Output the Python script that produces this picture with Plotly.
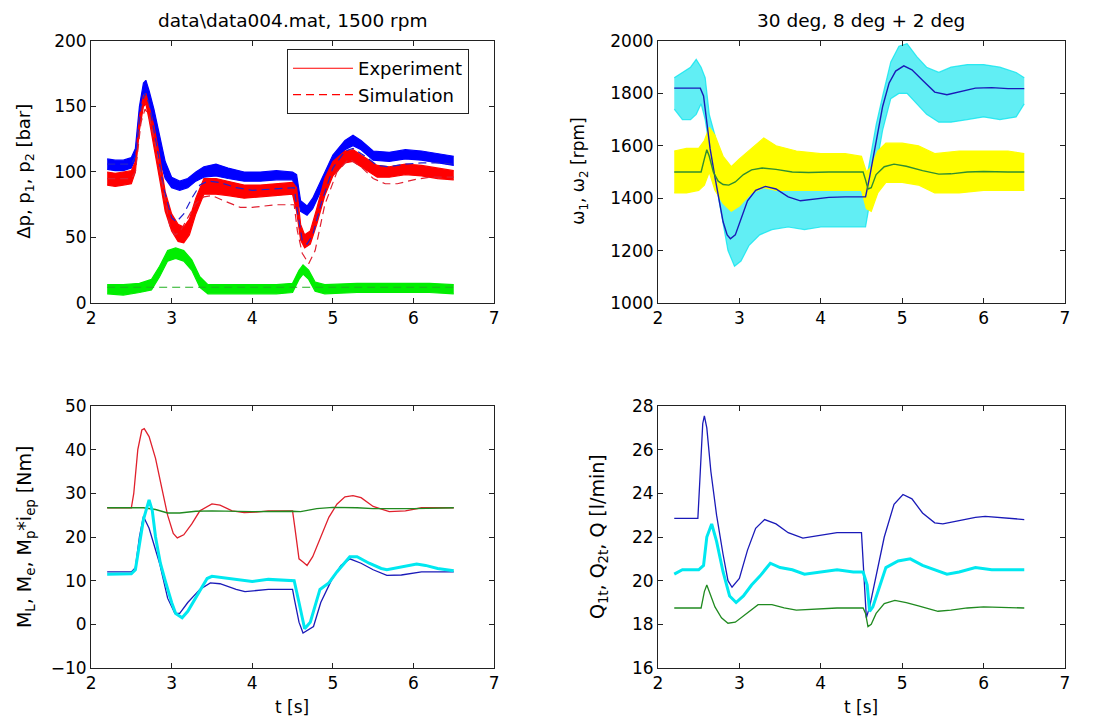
import plotly.graph_objects as go

# ---------------- data ----------------
# Top-left: pressures [bar]
p1_t  = [2.20, 2.30, 2.40, 2.50, 2.55, 2.60, 2.65, 2.68, 2.72, 2.78, 2.85, 2.92, 3.00, 3.10, 3.20, 3.30, 3.40, 3.55, 3.70, 3.90, 4.10, 4.30, 4.50, 4.55, 4.60, 4.68, 4.75, 4.85, 5.00, 5.15, 5.25, 5.35, 5.50, 5.70, 5.90, 6.10, 6.30, 6.50]
p1_lo = [102, 101, 101, 103, 110, 140, 160, 160, 150, 135, 110, 95, 88, 86, 88, 93, 96, 97, 95, 93, 93, 94, 94, 85, 70, 67, 72, 85, 105, 117, 120, 117, 109, 108, 110, 109, 107, 105]
p1_hi = [110, 109, 109, 111, 118, 150, 168, 170, 162, 148, 128, 108, 96, 93, 95, 100, 104, 106, 103, 100, 100, 101, 100, 98, 78, 74, 80, 93, 113, 124, 128, 124, 116, 115, 117, 116, 114, 112]

p2_t  = [2.20, 2.30, 2.40, 2.50, 2.55, 2.60, 2.65, 2.68, 2.72, 2.78, 2.85, 2.92, 3.00, 3.08, 3.15, 3.22, 3.30, 3.40, 3.55, 3.70, 3.90, 4.10, 4.30, 4.50, 4.55, 4.60, 4.65, 4.72, 4.80, 4.90, 5.00, 5.15, 5.25, 5.40, 5.55, 5.70, 5.90, 6.10, 6.30, 6.50]
p2_lo = [90, 89, 90, 91, 100, 132, 150, 152, 140, 120, 95, 70, 55, 47, 46, 52, 68, 83, 83, 82, 80, 81, 82, 83, 70, 48, 42, 45, 60, 82, 97, 107, 108, 102, 96, 96, 98, 97, 95, 94]
p2_hi = [100, 99, 100, 101, 108, 142, 158, 160, 150, 135, 112, 85, 68, 60, 58, 64, 80, 95, 95, 93, 90, 90, 91, 92, 88, 60, 52, 55, 72, 95, 108, 116, 117, 111, 105, 104, 106, 105, 103, 101]

dp_t  = [2.20, 2.40, 2.60, 2.75, 2.85, 2.95, 3.05, 3.15, 3.25, 3.35, 3.45, 3.70, 4.00, 4.30, 4.50, 4.58, 4.63, 4.70, 4.78, 4.90, 5.30, 5.80, 6.20, 6.50]
dp_lo = [7, 6, 8, 10, 20, 32, 34, 32, 25, 12, 7, 7, 7, 7, 8, 18, 22, 18, 9, 7, 8, 8, 8, 7]
dp_hi = [14, 14, 15, 18, 28, 40, 42, 40, 33, 20, 14, 14, 14, 14, 15, 25, 29, 25, 16, 14, 15, 15, 15, 14]

p1s_t = [2.20, 2.50, 2.55, 2.62, 2.67, 2.72, 2.80, 2.90, 3.00, 3.06, 3.15, 3.25, 3.35, 3.45, 3.60, 3.80, 4.00, 4.30, 4.52, 4.56, 4.62, 4.68, 4.75, 4.85, 5.00, 5.15, 5.25, 5.40, 5.55, 5.70, 5.90, 6.10, 6.30, 6.50]
p1s   = [106, 106, 112, 150, 160, 152, 125, 88, 65, 62, 68, 80, 90, 93, 92, 88, 86, 87, 88, 70, 48, 45, 52, 75, 103, 116, 118, 112, 105, 104, 106, 107, 107, 106]

p2s_t = [2.20, 2.50, 2.55, 2.62, 2.67, 2.72, 2.80, 2.90, 2.98, 3.04, 3.10, 3.20, 3.30, 3.40, 3.50, 3.65, 3.85, 4.00, 4.30, 4.52, 4.56, 4.62, 4.70, 4.78, 4.90, 5.05, 5.20, 5.35, 5.50, 5.65, 5.80, 6.00, 6.20, 6.40, 6.50]
p2s   = [95, 95, 100, 138, 148, 143, 120, 85, 58, 52, 54, 65, 76, 81, 82, 78, 73, 73, 75, 75, 55, 38, 30, 40, 75, 100, 110, 104, 95, 91, 91, 94, 96, 96, 96]

dps_t = [2.20, 6.50]
dps   = [12, 12]

# Top-right: speeds [rpm]
w2_t  = [2.20, 2.30, 2.40, 2.47, 2.53, 2.58, 2.63, 2.70, 2.78, 2.86, 2.94, 3.02, 3.12, 3.25, 3.40, 3.60, 3.80, 4.00, 4.20, 4.40, 4.55, 4.60, 4.68, 4.76, 4.86, 4.96, 5.06, 5.18, 5.30, 5.45, 5.60, 5.80, 6.00, 6.20, 6.40, 6.50]
w2_lo = [1740, 1700, 1700, 1720, 1760, 1700, 1600, 1480, 1330, 1200, 1140, 1160, 1220, 1260, 1280, 1290, 1280, 1290, 1290, 1290, 1290, 1380, 1520, 1660, 1780, 1800, 1800, 1760, 1720, 1690, 1690, 1700, 1710, 1700, 1710, 1760]
w2_hi = [1860, 1880, 1900, 1930, 1900, 1860, 1720, 1640, 1530, 1450, 1400, 1400, 1430, 1445, 1450, 1445, 1440, 1440, 1440, 1440, 1450, 1540, 1680, 1790, 1920, 1980, 1990, 1940, 1900, 1880, 1900, 1910, 1910, 1900, 1880, 1860]

w1_t  = [2.20, 2.35, 2.50, 2.57, 2.63, 2.70, 2.80, 2.90, 3.00, 3.15, 3.30, 3.45, 3.70, 4.00, 4.30, 4.50, 4.56, 4.62, 4.70, 4.80, 5.00, 5.20, 5.40, 5.70, 6.00, 6.30, 6.50]
w1_lo = [1420, 1420, 1430, 1450, 1500, 1430, 1380, 1350, 1370, 1420, 1440, 1430, 1430, 1430, 1430, 1430, 1360, 1350, 1420, 1460, 1460, 1450, 1420, 1420, 1430, 1430, 1430]
w1_hi = [1580, 1590, 1590, 1620, 1670, 1640, 1560, 1520, 1550, 1590, 1630, 1600, 1580, 1570, 1570, 1560, 1500, 1520, 1580, 1610, 1610, 1600, 1570, 1580, 1580, 1580, 1570]

w2s_t = [2.20, 2.52, 2.56, 2.60, 2.64, 2.70, 2.75, 2.80, 2.85, 2.89, 2.95, 3.02, 3.10, 3.20, 3.32, 3.45, 3.60, 3.75, 3.90, 4.10, 4.30, 4.55, 4.60, 4.68, 4.76, 4.84, 4.92, 5.02, 5.12, 5.25, 5.40, 5.55, 5.70, 5.90, 6.10, 6.30, 6.50]
w2s   = [1820, 1820, 1790, 1700, 1590, 1480, 1390, 1310, 1260, 1245, 1260, 1320, 1390, 1430, 1445, 1435, 1405, 1390, 1395, 1403, 1405, 1405, 1480, 1620, 1750, 1840, 1885, 1905, 1890, 1850, 1805, 1795, 1805, 1820, 1822, 1818, 1818]

w1s_t = [2.20, 2.53, 2.57, 2.60, 2.63, 2.68, 2.74, 2.80, 2.87, 2.95, 3.05, 3.15, 3.28, 3.45, 3.65, 3.85, 4.10, 4.52, 4.55, 4.58, 4.62, 4.68, 4.78, 4.90, 5.05, 5.25, 5.45, 5.60, 5.80, 6.00, 6.30, 6.50]
w1s   = [1500, 1500, 1550, 1585, 1560, 1500, 1465, 1452, 1450, 1462, 1490, 1508, 1515, 1510, 1500, 1498, 1500, 1500, 1470, 1435, 1440, 1490, 1520, 1530, 1522, 1505, 1492, 1493, 1500, 1502, 1500, 1500]

# Bottom-left: torques [Nm]
ML_t = [2.20, 2.50, 2.53, 2.58, 2.63, 2.66, 2.72, 2.80, 2.88, 2.95, 3.02, 3.07, 3.15, 3.25, 3.35, 3.50, 3.60, 3.75, 3.90, 4.05, 4.20, 4.50, 4.53, 4.58, 4.63, 4.68, 4.75, 4.85, 4.95, 5.05, 5.15, 5.25, 5.35, 5.50, 5.70, 5.90, 6.10, 6.50]
ML   = [26.7, 26.7, 30.0, 40.0, 44.5, 44.8, 43.0, 38.0, 31.0, 25.0, 20.8, 19.8, 20.5, 23.0, 26.0, 27.6, 27.3, 26.0, 25.6, 25.7, 26.0, 26.0, 22.0, 15.0, 14.3, 13.5, 15.5, 20.0, 24.5, 27.5, 29.2, 29.5, 29.0, 27.0, 25.8, 26.0, 26.7, 26.7]

Me_t = [2.20, 2.65, 2.80, 2.95, 3.10, 3.30, 3.50, 3.80, 4.00, 4.50, 4.60, 4.80, 5.00, 5.30, 5.50, 6.00, 6.50]
Me   = [26.7, 26.7, 26.3, 25.5, 25.5, 25.9, 26.0, 25.9, 25.8, 25.9, 25.8, 26.5, 26.8, 26.7, 26.5, 26.5, 26.7]

Mp_t = [2.20, 2.50, 2.55, 2.60, 2.65, 2.72, 2.85, 2.95, 3.04, 3.10, 3.20, 3.35, 3.48, 3.60, 3.80, 3.91, 4.20, 4.50, 4.52, 4.58, 4.63, 4.70, 4.76, 4.85, 4.98, 5.10, 5.21, 5.35, 5.50, 5.67, 5.85, 6.10, 6.50]
Mp   = [12.0, 12.0, 13.0, 20.0, 24.7, 22.0, 14.0, 6.0, 2.5, 2.5, 5.0, 8.0, 9.5, 9.3, 8.0, 7.5, 8.0, 8.0, 6.0, 0.5, -2.0, -1.2, -0.5, 5.0, 10.0, 13.5, 15.0, 14.0, 12.5, 11.2, 11.3, 12.0, 12.0]

Mpx_t = [2.20, 2.50, 2.55, 2.60, 2.65, 2.72, 2.76, 2.80, 2.86, 2.92, 3.00, 3.05, 3.13, 3.20, 3.30, 3.44, 3.50, 3.70, 3.90, 4.00, 4.20, 4.40, 4.52, 4.58, 4.65, 4.72, 4.78, 4.84, 4.95, 5.05, 5.21, 5.30, 5.45, 5.60, 5.67, 5.80, 6.04, 6.15, 6.30, 6.50]
Mpx   = [11.5, 11.6, 12.5, 18.0, 24.0, 28.5, 26.0, 20.0, 14.0, 10.0, 5.0, 2.5, 1.5, 3.0, 6.0, 10.5, 11.0, 10.5, 10.0, 9.8, 10.3, 10.2, 10.0, 5.0, -1.0, 0.5, 4.0, 8.0, 9.5, 12.0, 15.5, 15.5, 14.0, 12.8, 12.5, 13.0, 13.8, 13.5, 12.8, 12.3]

# Bottom-right: flows [l/min]
Q1_t = [2.20, 2.49, 2.52, 2.55, 2.57, 2.60, 2.65, 2.72, 2.80, 2.86, 2.91, 3.00, 3.10, 3.20, 3.31, 3.45, 3.60, 3.78, 3.95, 4.20, 4.50, 4.53, 4.56, 4.60, 4.68, 4.78, 4.90, 5.01, 5.12, 5.25, 5.40, 5.50, 5.70, 5.90, 6.02, 6.30, 6.50]
Q1   = [22.85, 22.85, 25.0, 27.2, 27.55, 27.0, 25.0, 23.0, 21.2, 20.0, 19.7, 20.1, 21.4, 22.4, 22.8, 22.6, 22.2, 21.95, 22.05, 22.2, 22.2, 20.0, 18.3, 18.8, 20.2, 22.0, 23.5, 23.95, 23.75, 23.1, 22.65, 22.6, 22.75, 22.9, 22.95, 22.85, 22.8]

Q2_t = [2.20, 2.30, 2.50, 2.56, 2.60, 2.66, 2.72, 2.80, 2.88, 2.96, 3.05, 3.15, 3.25, 3.38, 3.50, 3.65, 3.80, 4.00, 4.20, 4.40, 4.52, 4.57, 4.60, 4.64, 4.70, 4.80, 4.95, 5.10, 5.25, 5.40, 5.55, 5.70, 5.90, 6.10, 6.30, 6.50]
Q2   = [20.3, 20.5, 20.5, 20.7, 22.0, 22.6, 21.8, 20.4, 19.3, 19.0, 19.3, 19.8, 20.2, 20.8, 20.6, 20.5, 20.3, 20.4, 20.5, 20.4, 20.4, 19.8, 18.6, 18.8, 19.5, 20.6, 20.9, 21.0, 20.7, 20.5, 20.3, 20.4, 20.6, 20.5, 20.5, 20.5]

Q_t = [2.20, 2.53, 2.57, 2.60, 2.64, 2.70, 2.78, 2.86, 2.95, 3.05, 3.15, 3.23, 3.40, 3.55, 3.70, 3.90, 4.20, 4.52, 4.55, 4.58, 4.62, 4.68, 4.78, 4.91, 5.05, 5.20, 5.44, 5.60, 5.80, 6.00, 6.30, 6.50]
Q   = [18.75, 18.75, 19.5, 19.8, 19.4, 18.8, 18.3, 18.05, 18.1, 18.4, 18.7, 18.9, 18.9, 18.75, 18.65, 18.7, 18.75, 18.75, 18.5, 17.9, 18.0, 18.5, 18.95, 19.1, 19.0, 18.85, 18.6, 18.65, 18.75, 18.8, 18.75, 18.75]

# tick values
x_ticks = [2, 3, 4, 5, 6, 7]
p_ticks = [0, 50, 100, 150, 200]
w_ticks = [1000, 1200, 1400, 1600, 1800, 2000]
M_ticks = [-10, 0, 10, 20, 30, 40, 50]
Q_ticks = [16, 18, 20, 22, 24, 26, 28]

# ---------------- figure ----------------
FONT = "DejaVu Sans"
fig = go.Figure()


def band(t, lo, hi, color, fillcolor, ax):
    xa, ya = ax
    fig.add_trace(go.Scatter(x=t, y=lo, mode="lines", line=dict(color=color, width=1.2),
                             xaxis=xa, yaxis=ya, showlegend=False, hoverinfo="skip"))
    fig.add_trace(go.Scatter(x=t, y=hi, mode="lines", line=dict(color=color, width=1.2),
                             fill="tonexty", fillcolor=fillcolor,
                             xaxis=xa, yaxis=ya, showlegend=False, hoverinfo="skip"))


def line(t, y, color, ax, width=1.2, dash=None):
    xa, ya = ax
    fig.add_trace(go.Scatter(x=t, y=y, mode="lines",
                             line=dict(color=color, width=width, dash=dash),
                             xaxis=xa, yaxis=ya, showlegend=False))


A1, A2, A3, A4 = ("x", "y"), ("x2", "y2"), ("x3", "y3"), ("x4", "y4")

# top-left
band(p1_t, p1_lo, p1_hi, "#0000ff", "#0000ff", A1)
band(p2_t, p2_lo, p2_hi, "#ff0000", "#ff0000", A1)
band(dp_t, dp_lo, dp_hi, "#00ee00", "#00ee00", A1)
line(p1s_t, p1s, "#2020d0", A1, width=1.2, dash="8px,5px")
line(p2s_t, p2s, "#e02030", A1, width=1.2, dash="8px,5px")
line(dps_t, dps, "#20b020", A1, width=1.2, dash="8px,5px")
# legend entries
fig.add_trace(go.Scatter(x=[None], y=[None], mode="lines", line=dict(color="#ff0000", width=1.2),
                         name="Experiment", xaxis="x", yaxis="y", showlegend=True))
fig.add_trace(go.Scatter(x=[None], y=[None], mode="lines",
                         line=dict(color="#ff0000", width=1.2, dash="8px,5px"),
                         name="Simulation", xaxis="x", yaxis="y", showlegend=True))

# top-right (cyan band underneath, yellow band on top)
band(w2_t, w2_lo, w2_hi, "rgba(0,228,238,0.75)", "rgba(0,228,238,0.62)", A2)
band(w1_t, w1_lo, w1_hi, "#ffff00", "#ffff00", A2)
line(w2s_t, w2s, "#1a1ab8", A2, width=1.4)
line(w1s_t, w1s, "#2f8f2f", A2, width=1.4)

# bottom-left
line(ML_t, ML, "#e0202c", A3, width=1.3)
line(Me_t, Me, "#208a20", A3, width=1.3)
line(Mp_t, Mp, "#1a1ab8", A3, width=1.3)
line(Mpx_t, Mpx, "#00e8f0", A3, width=3.0)

# bottom-right
line(Q1_t, Q1, "#1a1ab8", A4, width=1.3)
line(Q2_t, Q2, "#00e8f0", A4, width=3.0)
line(Q_t, Q, "#208a20", A4, width=1.3)

# ---------------- layout ----------------
XL = [0.0821, 0.4455]
XR = [0.5933, 0.9603]
YT = [0.5786, 0.9430]
YB = [0.0709, 0.4353]

tickfont = dict(family=FONT, size=17, color="black")


def xax(domain, anchor):
    return dict(domain=domain, anchor=anchor, range=[2, 7], tickvals=x_ticks,
                ticks="inside", ticklen=5, tickcolor="#222", mirror="allticks",
                showline=True, linecolor="#222", linewidth=1, showgrid=False,
                zeroline=False, tickfont=tickfont, fixedrange=True, automargin=False)


def yax(domain, anchor, rng, tv):
    return dict(domain=domain, anchor=anchor, range=rng, tickvals=tv,
                ticks="inside", ticklen=5, tickcolor="#222", mirror="allticks",
                showline=True, linecolor="#222", linewidth=1, showgrid=False,
                zeroline=False, tickfont=tickfont, fixedrange=True, automargin=False)


fig.update_layout(
    template="none",
    width=1109, height=719,
    margin=dict(l=0, r=0, t=0, b=0, pad=0, autoexpand=False),
    paper_bgcolor="white", plot_bgcolor="white",
    font=dict(family=FONT, size=16, color="black"),
    xaxis=xax(XL, "y"), yaxis=yax(YT, "x", [0, 200], p_ticks),
    xaxis2=xax(XR, "y2"), yaxis2=yax(YT, "x2", [1000, 2000], w_ticks),
    xaxis3=xax(XL, "y3"), yaxis3=yax(YB, "x3", [-10, 50], M_ticks),
    xaxis4=xax(XR, "y4"), yaxis4=yax(YB, "x4", [16, 28], Q_ticks),
    legend=dict(x=0.2588, y=0.9318, xanchor="left", yanchor="top",
                bgcolor="white", bordercolor="#222", borderwidth=1,
                font=dict(family=FONT, size=18, color="black"),
                itemwidth=60, tracegroupgap=0, traceorder="normal"),
    showlegend=True,
)

ann = [
    dict(text="data\\data004.mat, 1500 rpm", x=292 / 1109, y=1 - 20 / 719, size=18.5, angle=0),
    dict(text="30 deg, 8 deg + 2 deg", x=861 / 1109, y=1 - 20 / 719, size=18.5, angle=0),
    dict(text="Δp, p<sub>1</sub>, p<sub>2</sub> [bar]", x=25 / 1109, y=0.761, size=18, angle=-90),
    dict(text="ω<sub>1</sub>, ω<sub>2</sub> [rpm]", x=580 / 1109, y=0.761, size=17, angle=-90),
    dict(text="M<sub>L</sub>, M<sub>e</sub>, M<sub>p</sub>*i<sub>ep</sub> [Nm]", x=25 / 1109, y=0.253, size=19, angle=-90),
    dict(text="Q<sub>1t</sub>, Q<sub>2t</sub>, Q [l/min]", x=598 / 1109, y=0.253, size=19, angle=-90),
    dict(text="t [s]", x=292 / 1109, y=1 - 707 / 719, size=17, angle=0),
    dict(text="t [s]", x=861 / 1109, y=1 - 707 / 719, size=17, angle=0),
]
for a in ann:
    fig.add_annotation(text=a["text"], x=a["x"], y=a["y"], xref="paper", yref="paper",
                       xanchor="center", yanchor="middle", showarrow=False,
                       textangle=a["angle"], font=dict(family=FONT, size=a["size"], color="black"))

fig.write_html(
    "out.html",
    config={"displayModeBar": False},
    post_script="document.body.style.margin='0';document.body.style.overflow='hidden';",
)
